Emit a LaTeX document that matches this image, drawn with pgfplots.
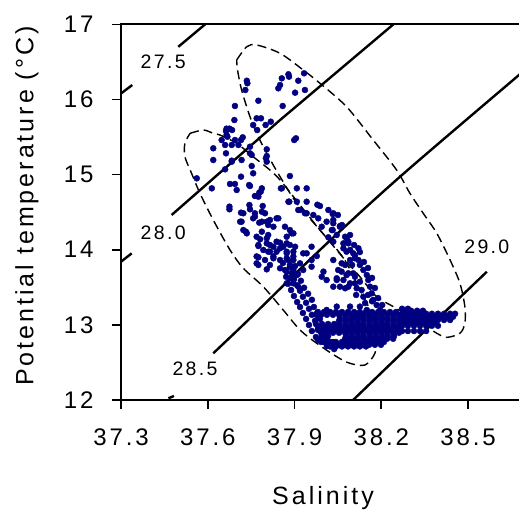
\documentclass[border=0pt]{standalone}
\usepackage{fontspec}
\setmainfont{Liberation Sans}[LetterSpace=12]
\usepackage{pgfplots}
\pgfplotsset{compat=1.18}
\definecolor{navy}{RGB}{0,0,128}
\begin{document}
\begin{tikzpicture}
\begin{axis}[
  name=ax,
  scale only axis,
  width=400pt, height=375.7pt,
  xmin=37.3, xmax=38.6831, ymin=12, ymax=17,
  xtick={37.3,37.6,37.9,38.2,38.5},
  ytick={12,13,14,15,16,17},
  /pgf/number format/assume math mode=true,
  xticklabel style={/pgf/number format/.cd,fixed,fixed zerofill,precision=1,/tikz/.cd,yshift=-16pt},
  yticklabel style={xshift=-15pt},
  tick align=outside, tick pos=left,
  major tick length=9pt,
  axis line style={line width=1.8pt},
  every tick/.style={line width=1.6pt, black},
  tick label style={font=\fontsize{24}{28}\selectfont},
  xlabel={Salinity}, ylabel={Potential temperature (°C)},
  label style={font=\fontsize{25}{30}\selectfont},
  xlabel style={at={(axis description cs:0.505,-0.277)}, anchor=base},
  ylabel style={at={(axis description cs:-0.235,0.516)}, anchor=center},
]
% scatter
\addplot[only marks, mark=*, mark size=3pt, color=navy, mark options={draw=navy, fill=navy}] coordinates {
(37.879,16.335)(37.881,16.303)(37.856,16.281)(37.850,16.192)(37.844,16.148)(37.913,16.249)(37.902,16.090)(37.936,16.126)(37.933,16.348)(37.735,16.249)(37.737,16.215)(37.730,16.126)(37.775,15.983)(37.859,15.913)(37.694,15.913)(37.692,15.726)(37.769,15.749)(37.784,15.749)(37.818,15.704)(37.757,15.660)(37.800,15.660)(37.771,15.593)(37.665,15.611)(37.675,15.611)(37.663,15.580)(37.684,15.593)(37.668,15.504)(37.694,15.460)(37.721,15.496)(37.648,15.460)(37.660,15.394)(37.706,15.394)(37.746,15.371)(37.715,15.460)(37.619,15.350)(37.619,15.194)(37.683,15.185)(37.717,15.194)(37.752,15.261)(37.804,15.336)(37.801,15.217)(37.905,15.483)(37.899,15.460)
(37.562,14.950)(37.614,14.817)(37.665,15.527)(37.683,15.394)(37.663,15.283)(37.683,15.172)(37.746,15.283)(37.660,15.070)(37.752,15.114)(37.757,15.017)(37.804,15.247)(37.804,15.172)(37.677,14.875)(37.694,14.875)(37.715,14.972)(37.700,14.795)(37.743,14.861)(37.783,14.772)(37.775,14.706)(37.675,14.573)(37.675,14.538)(37.746,14.538)(37.715,14.493)(37.787,14.506)(37.763,14.440)(37.712,14.373)(37.723,14.262)(37.735,14.218)(37.787,14.373)(37.815,14.396)(37.838,14.418)(37.809,14.329)(37.827,14.306)(37.867,14.306)(37.890,14.218)(37.884,14.981)(37.853,14.817)(37.879,14.639)(37.908,14.817)(37.908,14.639)(37.942,14.817)(37.913,14.529)(37.942,14.639)(37.942,14.485)(37.769,14.173)(37.775,14.063)(37.804,14.152)(37.815,14.063)(37.809,13.974)(37.838,14.107)(37.850,14.019)(37.873,14.085)(37.873,13.952)(37.902,14.040)(37.896,13.911)(37.930,13.952)(37.769,13.911)(37.798,13.863)(37.827,13.911)(37.850,13.863)(37.775,13.797)(37.815,13.797)
(37.746,14.848)(37.787,14.817)(37.763,14.715)(37.778,14.759)(37.856,14.817)(37.882,14.639)(37.744,14.595)(37.790,14.582)(37.763,14.485)(37.798,14.485)(37.723,14.485)(37.717,14.373)(37.757,14.418)(37.778,14.360)(37.804,14.373)(37.844,14.418)(37.732,14.240)(37.787,14.240)(37.809,14.196)(37.884,14.262)(37.896,14.218)(37.873,14.173)(37.781,14.139)(37.775,14.050)(37.804,14.085)(37.827,14.040)(37.850,14.094)(37.861,14.040)(37.884,14.063)(37.792,13.997)(37.815,13.974)(37.838,13.974)(37.873,13.974)(37.896,13.974)(37.942,13.952)(37.775,13.899)(37.827,13.886)(37.873,13.886)(37.896,13.863)(37.884,13.797)(37.919,13.819)(37.959,13.863)(37.977,13.916)(37.769,13.819)(37.804,13.739)(37.850,13.753)(37.873,13.708)(37.896,13.730)(37.908,13.663)(37.884,13.620)(37.873,13.553)(37.896,13.553)(37.913,13.508)(37.930,13.730)(37.959,13.774)
(37.919,14.529)(37.936,14.485)(37.965,14.462)(37.982,14.418)(37.988,14.582)(38.017,14.529)(38.032,14.475)(38.011,14.373)(37.994,14.306)(38.034,14.352)(38.057,14.306)(38.029,14.262)(38.046,14.196)(38.017,14.165)(38.034,14.107)(38.080,14.152)(38.086,14.085)(38.069,14.019)(38.080,13.974)(38.121,14.019)(38.034,13.863)(38.063,13.819)(38.092,13.863)(38.109,13.925)(38.000,13.708)(37.994,13.641)(38.011,13.597)(38.046,13.597)(38.063,13.708)(38.080,13.663)(38.103,13.686)(38.086,13.508)(38.109,13.553)(38.057,13.508)(37.959,14.040)(37.979,14.599)
(38.034,14.485)(38.034,14.396)(38.057,14.315)(38.032,14.262)(38.075,14.173)(38.069,14.085)(38.086,14.107)(38.092,13.997)(38.103,13.952)(38.109,13.886)(38.121,13.863)(38.126,13.797)(38.138,13.730)(38.150,13.663)(38.155,13.597)(38.161,13.508)(38.167,13.420)(38.172,13.331)(38.184,13.264)(38.196,13.198)
(38.051,13.730)(38.075,13.797)(38.086,13.686)(38.046,13.620)(38.069,13.597)(38.034,13.508)(38.075,13.487)(38.092,13.553)(38.109,13.641)(38.126,13.574)(38.115,13.487)(38.132,13.464)(38.138,13.375)(38.144,13.290)(38.126,13.243)(38.150,13.198)(38.046,13.243)(38.092,13.243)(38.057,13.154)(38.115,13.131)(38.138,13.109)
(38.050,14.462)(38.064,14.329)(38.092,14.196)(38.106,14.063)(38.126,13.969)(38.140,13.837)(38.154,13.757)(38.168,13.625)(38.178,13.491)(38.189,13.357)(38.203,13.264)(38.099,13.797)(38.113,13.398)(38.154,13.398)(38.168,13.314)
(37.860,13.823)(37.867,13.730)(37.871,13.640)(37.878,13.547)(37.888,13.464)(37.898,13.384)(37.909,13.304)(37.919,13.238)(37.929,13.158)(37.940,13.079)(37.950,12.998)(37.960,12.918)(37.974,12.838)(37.992,12.772)(38.012,12.718)(38.037,12.678)
(37.878,13.863)(37.884,13.770)(37.891,13.686)(37.898,13.606)(37.909,13.526)(37.919,13.454)(37.929,13.374)(37.940,13.294)(37.950,13.214)(37.960,13.134)(37.971,13.055)(37.981,12.975)(37.995,12.915)(38.012,12.849)(38.033,12.772)
(37.902,13.783)(37.912,13.677)(37.922,13.587)(37.933,13.494)(37.947,13.414)(37.960,13.334)(37.967,13.238)(37.978,13.158)(37.988,13.079)
(37.981,13.171)(38.002,13.171)(38.023,13.171)(38.043,13.171)(38.064,13.171)(38.085,13.171)(38.106,13.171)(38.126,13.171)(38.147,13.171)(38.168,13.171)(38.189,13.171)(38.209,13.171)(38.230,13.171)(38.251,13.171)
(38.057,13.091)(38.078,13.091)(38.099,13.091)(38.120,13.091)(38.140,13.091)(38.161,13.091)(38.182,13.091)(38.203,13.091)(38.223,13.091)(38.244,13.091)(38.265,13.091)
(37.974,13.011)(37.995,13.011)(38.016,13.011)(38.037,13.011)(38.057,13.011)(38.078,13.011)(38.099,13.011)(38.120,13.011)(38.140,13.011)(38.161,13.011)(38.182,13.011)(38.203,13.011)(38.223,13.011)(38.244,13.011)(38.265,13.011)
(37.981,12.932)(38.002,12.932)(38.023,12.932)(38.043,12.932)(38.064,12.932)(38.085,12.932)(38.106,12.932)(38.126,12.932)(38.147,12.932)(38.168,12.932)(38.189,12.932)(38.209,12.932)(38.230,12.932)(38.251,12.932)
(37.995,12.851)(38.016,12.851)(38.078,12.851)(38.099,12.851)(38.120,12.851)(38.140,12.851)(38.161,12.851)(38.182,12.851)(38.203,12.851)(38.223,12.851)(38.244,12.851)
(38.002,12.772)(38.023,12.772)(38.043,12.772)(38.064,12.772)(38.085,12.772)(38.106,12.772)(38.126,12.772)(38.147,12.772)(38.168,12.772)(38.189,12.772)(38.209,12.772)(37.981,12.799)
(38.023,12.713)(38.043,12.713)(38.064,12.713)(38.085,12.713)(38.106,12.713)(38.126,12.713)(38.147,12.713)
(37.992,13.134)(38.012,13.134)(38.033,13.134)(38.054,13.134)(38.075,13.134)(38.095,13.134)(38.116,13.134)(38.137,13.134)(38.158,13.134)(38.178,13.134)(38.199,13.134)(38.220,13.134)(38.241,13.134)(38.261,13.134)
(38.054,13.055)(38.075,13.055)(38.095,13.055)(38.116,13.055)(38.137,13.055)(38.158,13.055)(38.178,13.055)(38.199,13.055)(38.220,13.055)(38.241,13.055)(38.261,13.055)
(37.992,12.975)(38.012,12.975)(38.033,12.975)(38.054,12.975)(38.075,12.975)(38.095,12.975)(38.116,12.975)(38.137,12.975)(38.158,12.975)(38.178,12.975)(38.199,12.975)(38.220,12.975)(38.241,12.975)(38.261,12.975)
(37.992,12.895)(38.012,12.895)(38.033,12.895)(38.054,12.895)(38.075,12.895)(38.095,12.895)(38.116,12.895)(38.137,12.895)(38.158,12.895)(38.178,12.895)(38.199,12.895)(38.220,12.895)(38.241,12.895)(38.261,12.895)
(37.992,12.815)(38.012,12.815)(38.075,12.815)(38.095,12.815)(38.116,12.815)(38.137,12.815)(38.158,12.815)(38.178,12.815)(38.199,12.815)(38.220,12.815)(38.241,12.815)
(38.012,12.735)(38.033,12.735)(38.054,12.735)(38.075,12.735)(38.095,12.735)(38.116,12.735)(38.137,12.735)(38.158,12.735)(38.178,12.735)(38.199,12.735)
(38.272,13.214)(38.292,13.214)
(38.272,13.148)(38.292,13.148)(38.313,13.148)(38.334,13.148)(38.355,13.148)(38.375,13.148)(38.396,13.148)(38.417,13.148)(38.438,13.148)(38.455,13.148)
(38.272,13.065)(38.292,13.065)(38.313,13.065)(38.334,13.065)(38.355,13.065)(38.375,13.065)(38.396,13.065)(38.417,13.065)(38.438,13.065)
(38.272,12.988)(38.292,12.988)(38.313,12.988)(38.334,12.988)(38.355,12.988)(38.375,12.988)(38.396,12.988)
(38.272,12.918)(38.292,12.918)(38.313,12.918)(38.334,12.918)(38.355,12.918)
(38.282,13.188)(38.303,13.188)(38.324,13.188)(38.344,13.188)
(38.282,13.108)(38.303,13.108)(38.324,13.108)(38.344,13.108)(38.365,13.108)(38.386,13.108)(38.407,13.108)(38.427,13.108)(38.448,13.108)
(38.282,13.028)(38.303,13.028)(38.324,13.028)(38.344,13.028)(38.365,13.028)(38.386,13.028)
(38.011,13.198)(37.977,13.131)
};
% isopycnals
\addplot[black, line width=2.4pt] coordinates {(37.29,16.050)(37.339,16.192)};
\addplot[black, line width=2.4pt] coordinates {(37.498,16.70)(37.591,17.0)(37.60,17.03)};
\addplot[black, line width=2.4pt] coordinates {(37.29,13.810)(37.337,13.952)};
\addplot[black, line width=2.4pt] coordinates {(37.475,14.462)(37.850,15.726)(38.242,17.0)(38.25,17.03)};
\addplot[black, line width=2.4pt] coordinates {(37.464,12.023)(37.483,12.053)};
\addplot[black, line width=2.4pt, smooth] coordinates {(37.619,12.622)(37.746,13.087)(37.988,13.997)(38.265,14.972)(38.676,16.325)(38.70,16.40)};
\addplot[black, line width=2.4pt] coordinates {(38.10,11.99)(38.288,12.688)(38.565,13.707)};
% dashed envelopes
\addplot[black, line width=1.4pt, dash pattern=on 9pt off 5pt, smooth, tension=0.5] coordinates {
(37.700,16.525)(37.735,16.702)(37.769,16.725)(37.850,16.614)(37.930,16.392)(37.988,16.215)(38.080,15.903)(38.172,15.460)(38.253,15.061)(38.299,14.751)(38.345,14.485)(38.392,14.218)(38.438,13.863)(38.472,13.553)(38.489,13.243)(38.489,13.021)(38.472,12.888)(38.426,12.834)(38.392,12.888)(38.357,12.976)(38.299,13.109)(38.242,13.242)(38.184,13.375)(38.126,13.641)(38.069,13.890)(37.988,14.262)(37.908,14.618)(37.850,14.972)(37.804,15.283)(37.769,15.549)(37.746,15.770)(37.717,16.126)(37.703,16.392)(37.700,16.525)};
\addplot[black, line width=1.4pt, dash pattern=on 9pt off 5pt, smooth, tension=0.5] coordinates {
(37.539,15.549)(37.585,15.593)(37.619,15.549)(37.642,15.527)(37.700,15.416)(37.757,15.238)(37.815,15.061)(37.850,14.928)(37.919,14.595)(37.988,14.262)(38.069,13.890)(38.126,13.464)(38.172,13.109)(38.184,12.834)(38.178,12.622)(38.144,12.466)(38.092,12.488)(38.046,12.576)(37.977,12.754)(37.919,12.932)(37.861,13.197)(37.792,13.508)(37.723,13.753)(37.677,13.997)(37.619,14.396)(37.573,14.751)(37.544,15.017)(37.521,15.238)(37.521,15.416)(37.539,15.549)};
% isopycnal labels
\node[font=\fontsize{19.5}{23}\selectfont] at (axis cs:37.446,16.50) {27.5};
\node[font=\fontsize{19.5}{23}\selectfont] at (axis cs:37.446,14.232) {28.0};
\node[font=\fontsize{19.5}{23}\selectfont] at (axis cs:37.556,12.409) {28.5};
\node[font=\fontsize{19.5}{23}\selectfont] at (axis cs:38.565,14.04) {29.0};
\end{axis}
\pgfresetboundingbox
\path ([shift={(-121pt,-109pt)}]ax.south west) rectangle ([shift={(398pt,400pt)}]ax.south west);
\end{tikzpicture}
\end{document}
